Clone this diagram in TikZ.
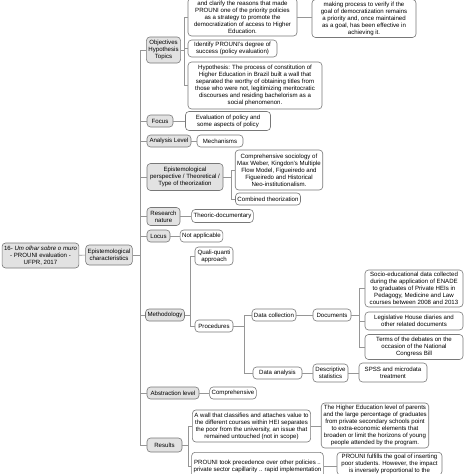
\documentclass[tikz,border=0pt]{standalone}
\usepackage{fontspec}
\setsansfont{Liberation Sans}
\definecolor{linegray}{RGB}{150,150,150}
\definecolor{boxline}{RGB}{120,120,120}
\definecolor{topicfill}{RGB}{226,226,226}
\tikzset{
  mapnode/.style={draw=boxline, line width=0.6pt, rounded corners=3.5pt, align=center,
    inner xsep=2pt, inner ysep=1.5pt, text=black, font=\sffamily\fontsize{6.1}{7}\selectfont},
  topic/.style={mapnode, fill=topicfill},
  leaf/.style={mapnode, fill=white},
  link/.style={draw=linegray, line width=0.6pt}
}
\begin{document}
\begin{tikzpicture}[x=1pt, y=-1pt]
    \useasboundingbox[fill=white] (0,0) rectangle (474,474);

    % Root and main branch
    \node[topic, minimum width=75, minimum height=25] (root) at (40.5,255.5) {16- \textit{Um olhar sobre o muro}\\- PROUNI evaluation -\\UFPR, 2017};
    \node[topic, minimum width=46, minimum height=20] (epist) at (109,255) {Epistemological\\characteristics};

    % Second level
    \node[topic, minimum width=33, minimum height=26] (objectives) at (163.5,50) {Objectives\\Hypothesis\\Topics};
    \node[topic, minimum width=26, minimum height=12] (focus) at (160,121) {Focus};
    \node[topic, minimum width=44, minimum height=12] (analysis) at (169,141) {Analysis Level};
    \node[topic, minimum width=76, minimum height=27] (perspective) at (185,177) {Epistemological\\perspective / Theoretical /\\Type of theorization};
    \node[topic, minimum width=33, minimum height=18] (research) at (163.5,216.5) {Research\\nature};
    \node[topic, minimum width=23, minimum height=12] (locus) at (158.5,236) {Locus};
    \node[topic, minimum width=36, minimum height=12] (methodology) at (165,315) {Methodology};
    \node[topic, minimum width=52, minimum height=12] (abstraction) at (173,393) {Abstraction level};
    \node[topic, minimum width=35, minimum height=14] (results) at (164.5,445) {Results};

    % Objectives
    \node[leaf, minimum width=109, minimum height=38] (reasons) at (242.5,17) {and clarify the reasons that made\\PROUNI one of the priority policies\\as a strategy to promote the\\democratization of access to Higher\\Education.};
    \node[leaf, minimum width=104, minimum height=38] (verify) at (364,18.5) {making process to verify if the\\goal of democratization remains\\a priority and, once maintained\\as a goal, has been effective in\\achieving it.};
    \node[leaf, minimum width=89, minimum height=17] (identify) at (232.5,48.5) {Identify PROUNI's degree of\\success (policy evaluation)};
    \node[leaf, minimum width=134, minimum height=47] (hypothesis) at (255,85.5) {Hypothesis: The process of constitution of\\Higher Education in Brazil built a wall that\\separated the worthy of obtaining titles from\\those who were not, legitimizing meritocratic\\discourses and residing bachelorism as a\\social phenomenon.};

    % Focus, level, perspective
    \node[leaf, minimum width=85, minimum height=19] (evaluation) at (228,121) {Evaluation of policy and\\some aspects of policy};
    \node[leaf, minimum width=46, minimum height=12] (mechanisms) at (220,141) {Mechanisms};
    \node[leaf, minimum width=86, minimum height=40] (sociology) at (279,170) {Comprehensive sociology of\\Max Weber, Kingdon's Multiple\\Flow Model, Figueiredo and\\Figueiredo and Historical\\Neo-institutionalism.};
    \node[leaf, minimum width=64, minimum height=12] (combined) at (268,199) {Combined theorization};
    \node[leaf, minimum width=59, minimum height=13] (theoric) at (222.5,216) {Theoric-documentary};
    \node[leaf, minimum width=41, minimum height=12] (notapplicable) at (201.5,236) {Not applicable};

    % Methodology
    \node[leaf, minimum width=38, minimum height=18] (quali) at (214,256) {Quali-quanti\\approach};
    \node[leaf, minimum width=38, minimum height=12] (procedures) at (214,326) {Procedures};
    \node[leaf, minimum width=44, minimum height=12] (collection) at (274,315) {Data collection};
    \node[leaf, minimum width=49, minimum height=12] (dataanalysis) at (277.5,373) {Data analysis};
    \node[leaf, minimum width=38, minimum height=12] (documents) at (332,315) {Documents};
    \node[leaf, minimum width=98, minimum height=37] (enade) at (414,288.5) {Socio-educational data collected\\during the application of ENADE\\to graduates of Private HEIs in\\Pedagogy, Medicine and Law\\courses between 2008 and 2013};
    \node[leaf, minimum width=98, minimum height=18] (diaries) at (414,321) {Legislative House diaries and\\other related documents};
    \node[leaf, minimum width=98, minimum height=25] (debates) at (414,347) {Terms of the debates on the\\occasion of the National\\Congress Bill};
    \node[leaf, minimum width=35, minimum height=18] (descriptive) at (330.5,373) {Descriptive\\statistics};
    \node[leaf, minimum width=68, minimum height=19] (spss) at (393,372.5) {SPSS and microdata\\treatment};
    \node[leaf, minimum width=40, minimum height=12] (comprehensive) at (233,393) {Comprehensive};

    % Results
    \node[leaf, minimum width=117, minimum height=32] (wall) at (251.5,426) {A wall that classifies and attaches value to\\the different courses within HEI separates\\the poor from the university, an issue that\\remained untouched (not in scope)};
    \node[leaf, minimum width=104, minimum height=45] (parents) at (375,425.5) {The Higher Education level of parents\\and the large percentage of graduates\\from private secondary schools point\\to extra-economic elements that\\broaden or limit the horizons of young\\people attended by the program.};
    \node[leaf, minimum width=129, minimum height=28, anchor=north] (precedence) at (257.5,452) {PROUNI took precedence over other policies ..\\private sector capillarity .. rapid implementation};
    \node[leaf, minimum width=105, anchor=north] (fulfills) at (389.5,452) {PROUNI fulfills the goal of inserting\\poor students. However, the impact\\is inversely proportional to the};

    % Connectors
    \draw[link] (root) -- (epist);
    \draw[link] (epist.east) -- ++(8,0) coordinate (trunk);
    \foreach \n in {objectives,focus,analysis,perspective,research,locus,methodology,abstraction,results}
        \draw[link] (trunk) |- (\n.west);
    \draw[link] (objectives.east) -- ++(3,0) coordinate (objfork);
    \foreach \n in {reasons,identify,hypothesis}
        \draw[link] (objfork) |- (\n.west);
    \draw[link] (reasons.east) -- (reasons.east -| verify.west);
    \draw[link] (focus) -- (evaluation);
    \draw[link] (analysis) -- (mechanisms);
    \draw[link] (perspective.east) -- ++(8,0) coordinate (perfork);
    \foreach \n in {sociology,combined}
        \draw[link] (perfork) |- (\n.west);
    \draw[link] (research.east) -- (research.east -| theoric.west);
    \draw[link] (locus) -- (notapplicable);
    \draw[link] (methodology.east) -- ++(6,0) coordinate (metfork);
    \foreach \n in {quali,procedures}
        \draw[link] (metfork) |- (\n.west);
    \draw[link] (procedures.east) -- ++(11,0) coordinate (profork);
    \foreach \n in {collection,dataanalysis}
        \draw[link] (profork) |- (\n.west);
    \draw[link] (collection) -- (documents);
    \draw[link] (documents.east) -- ++(8,0) coordinate (docfork);
    \foreach \n in {enade,diaries,debates}
        \draw[link] (docfork) |- (\n.west);
    \draw[link] (dataanalysis) -- (descriptive);
    \draw[link] (descriptive.east) -- (descriptive.east -| spss.west);
    \draw[link] (abstraction) -- (comprehensive);
    \draw[link] (results.east) -- ++(6,0) coordinate (resfork);
    \foreach \n in {wall,precedence}
        \draw[link] (resfork) |- (\n.west);
    \draw[link] (wall.east) -- (wall.east -| parents.west);
    \draw[link] (precedence.east) -- (precedence.east -| fulfills.west);
\end{tikzpicture}
\end{document}
